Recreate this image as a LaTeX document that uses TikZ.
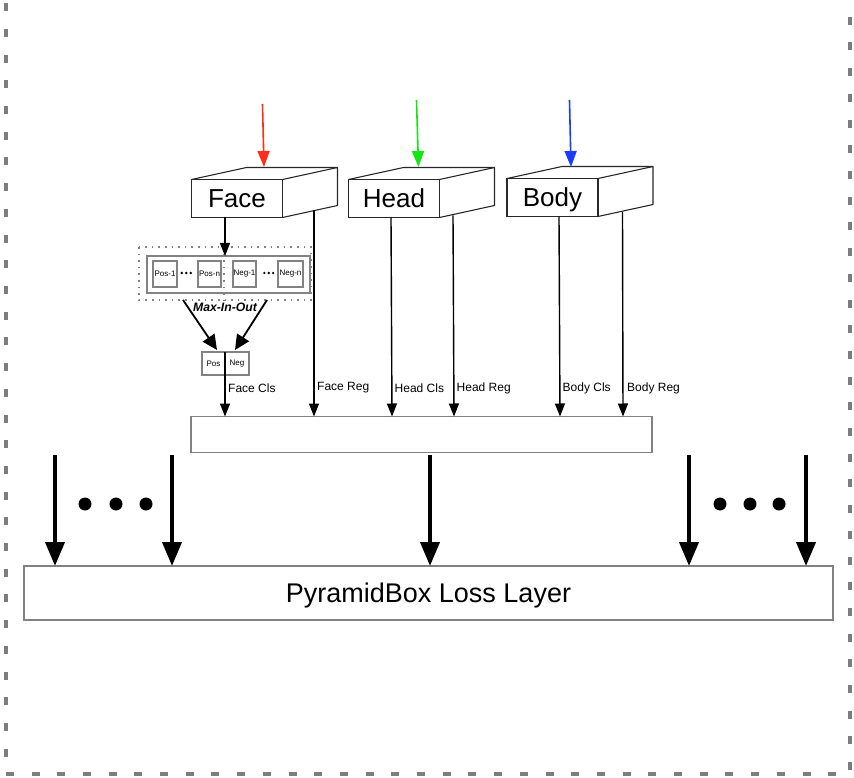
\documentclass[tikz,border=0pt]{standalone}
\usepackage{fontspec}
\setmainfont{Liberation Sans}
\usetikzlibrary{arrows.meta,calc}
\definecolor{cubecol}{RGB}{40,40,40}
\definecolor{boxgray}{RGB}{130,130,130}
\definecolor{framegray}{RGB}{125,125,125}
\definecolor{myred}{RGB}{255,45,25}
\definecolor{mygreen}{RGB}{20,230,20}
\definecolor{myblue}{RGB}{25,60,255}
\begin{document}
\begin{tikzpicture}[x=1pt,y=-1pt,
  cubefront/.style={draw=cubecol, line width=1.1pt, minimum width=91pt, minimum height=38pt, inner sep=0pt, outer sep=0pt, font=\fontsize{26}{30}\selectfont, text height=18.6pt, text depth=0pt},
  cubeedge/.style={draw=cubecol, line width=1.1pt, line join=round},
  thinarrow/.style={draw=black, line width=1.4pt, -{Triangle[width=10pt,length=13pt]}},
  midarrow/.style={draw=black, line width=1.8pt, -{Triangle[width=14pt,length=15pt]}},
  colarrow/.style={line width=1.6pt, -{Triangle[width=12pt,length=16pt]}},
  bigarrow/.style={draw=black, line width=4pt, -{Triangle[width=19pt,length=24pt]}},
  graybox/.style={draw=boxgray, line width=1.2pt, inner sep=0pt, outer sep=0pt},
  smallbox/.style={draw=boxgray, line width=1.3pt, inner sep=0pt, outer sep=0pt, minimum height=26pt, font=\fontsize{8}{9}\selectfont},
  dotline/.style={draw=boxgray, line width=1.4pt, dash pattern=on 1.6pt off 5pt},
  lbl/.style={font=\fontsize{12}{14}\selectfont, anchor=west, inner sep=0pt},
  bigdot/.style={fill=black, circle, minimum size=13pt, inner sep=0pt},
  smalldot/.style={fill=black, circle, minimum size=2.6pt, inner sep=0pt},
  framestyle/.style={draw=framegray, line width=4pt, dash pattern=on 8pt off 17.7pt}
]
\useasboundingbox (0,0) rectangle (854,778);

% outer dashed frame
\begin{scope}
\clip (0,0) rectangle (854,778);
\draw[framestyle] (5.5,3.3) -- (5.5,774) -- (850,774) -- (850,-10);
\end{scope}

% cubes
\foreach \nm/\cx/\cy/\txt in {face/237/198.5/Face, head/394/198.5/Head, body/552.5/197.5/Body}{
  \node[cubefront] (\nm) at (\cx,\cy) {\txt};
  \draw[cubeedge] (\nm.north west) -- ++(55,-12) -- ++(91,0) -- ++(0,38) -- (\nm.south east);
  \draw[cubeedge] (\nm.north east) -- ++(55,-12);
}

% coloured input arrows
\coordinate (rin) at (262.5,104);
\coordinate (gin) at (416.5,100);
\coordinate (bin) at (569.5,100);
\draw[colarrow, myred] (rin) -- (264,167);
\draw[colarrow, mygreen] (gin) -- (418.5,167);
\draw[colarrow, myblue] (bin) -- (571,167);

% Max-In-Out group
\node[draw=none, minimum width=172pt, minimum height=53pt, inner sep=0pt, outer sep=0pt] (mio) at (225,273.5) {};
\draw[dotline] (mio.north west) rectangle (mio.south east);
\draw[dotline] (224,247) -- (224,300);
\node[graybox, minimum width=163pt, minimum height=37pt] (grp) at (228.5,274.5) {};
\node[smallbox, minimum width=24pt] (p1) at (165,274) {Pos-1};
\node[smallbox, minimum width=23pt] (pn) at (209.5,274) {Pos-n};
\node[smallbox, minimum width=23pt] (n1) at (244.5,274) {Neg-1};
\node[smallbox, minimum width=25pt] (nn) at (290.5,274) {Neg-n};
\foreach \x in {181.7,186.2,190.7,264.3,268.7,273.1}{
  \node[smalldot] at (\x,273) {};
}
\node[font=\fontsize{12.2}{14}\selectfont\bfseries\itshape, inner sep=0pt] (miotxt) at (225,307) {Max-In-Out};

% Pos / Neg box
\node[smallbox, minimum width=23pt, minimum height=23pt] (pos) at (213.5,363.5) {Pos};
\node[smallbox, minimum width=24pt, minimum height=23pt] (neg) at (237,363.5) {Neg};

% intermediate box
\node[graybox, minimum width=461pt, minimum height=36pt] (mid) at (421.5,434.5) {};

% face to group
\draw[thinarrow] (225,0 |- face.south) -- (225,0 |- grp.north);
% group to pos/neg
\coordinate (mioL) at (183,300);
\coordinate (mioR) at (267,300);
\draw[midarrow] (mioL) -- (217,350);
\draw[midarrow] (mioR) -- (235,350);

% branch arrows
\coordinate (fcs) at (225,352);
\coordinate (frs) at (314,210);
\coordinate (hcs) at (391,0 |- head.south);
\coordinate (hrs) at (453,215.4);
\coordinate (bcs) at (559,0 |- body.south);
\coordinate (brs) at (622.5,212);
\draw[thinarrow] (fcs) -- (fcs |- mid.north);
\draw[thinarrow] (frs) -- (frs |- mid.north);
\draw[thinarrow] (hcs) -- (392,0 |- mid.north);
\draw[thinarrow] (hrs) -- (454,0 |- mid.north);
\draw[thinarrow] (bcs) -- (560,0 |- mid.north);
\draw[thinarrow] (brs) -- (623,0 |- mid.north);

\node[lbl] at (228,388) {Face Cls};
\node[lbl] at (317,388) {Face Reg};
\node[lbl] at (394.5,388) {Head Cls};
\node[lbl] at (456.5,388) {Head Reg};
\node[lbl] at (562.5,388) {Body Cls};
\node[lbl] at (627,388) {Body Reg};

% loss layer
\node[graybox, minimum width=809pt, minimum height=54pt, font=\fontsize{27}{32}\selectfont, text height=19.3pt, text depth=0pt] (loss) at (428.5,593) {PyramidBox Loss Layer};

% big arrows
\foreach \x/\nm in {55/a1, 172/a2, 430/a3, 689/a4, 806/a5}{
  \coordinate (\nm) at (\x,455);
  \draw[bigarrow] (\nm) -- (\nm |- loss.north);
}
\foreach \x in {85,116,146,720,750,779}{
  \node[bigdot] at (\x,504) {};
}
\end{tikzpicture}
\end{document}
